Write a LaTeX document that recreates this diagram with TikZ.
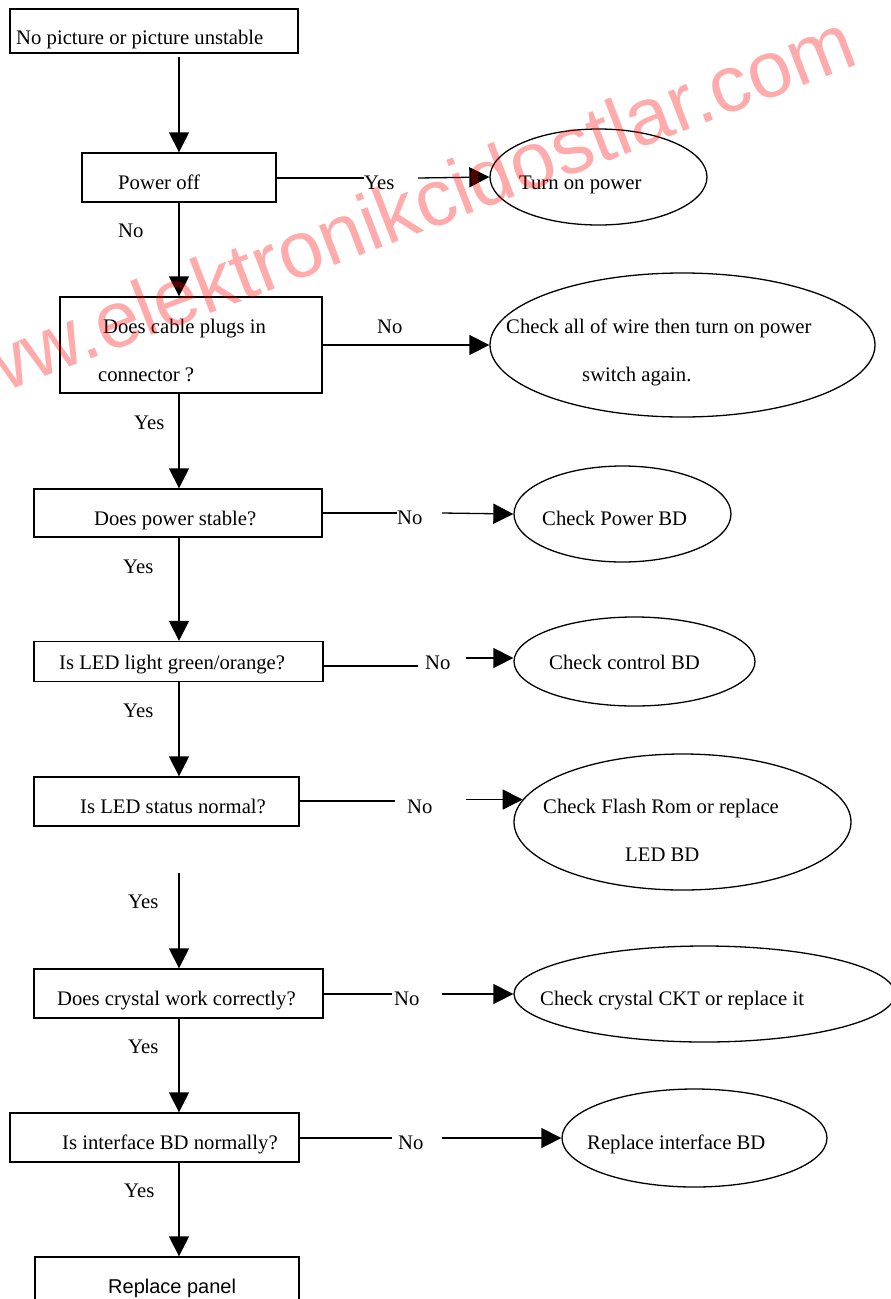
\documentclass[tikz,border=0pt]{standalone}
\usepackage{fontspec}
\setmainfont{Liberation Serif}
\newfontfamily\arialf{Liberation Sans}
\usetikzlibrary{shapes.geometric,arrows.meta}
\begin{document}
\begin{tikzpicture}[x=1pt,y=-1pt,
  box/.style={draw, line width=1.3pt, rectangle, inner sep=0pt},
  oval/.style={draw, line width=1.3pt, ellipse, inner sep=0pt},
  txt/.style={inner sep=0pt, anchor=base west, font=\fontsize{20.7pt}{24pt}\selectfont},
  conn/.style={line width=1.3pt},
  arr/.style={line width=1.3pt, -{Triangle[length=20pt,width=20pt]}},
]
\clip (0,0) rectangle (891,1299);
\fill[white] (0,0) rectangle (891,1299);
\coordinate (spine) at (179,0);

% boxes
\node[box, minimum width=288pt, minimum height=44pt] (b1) at (154,31) {};
\node[box, minimum width=194pt, minimum height=49pt] (b2) at (179,177.5) {};
\node[box, minimum width=262pt, minimum height=96pt] (b3) at (191,345) {};
\node[box, minimum width=288pt, minimum height=48pt] (b4) at (178,513) {};
\node[box, minimum width=289pt, minimum height=40pt] (b5) at (178.5,661.5) {};
\node[box, minimum width=265pt, minimum height=49pt] (b6) at (166.5,801.5) {};
\node[box, minimum width=289pt, minimum height=49pt] (b7) at (178.5,993.5) {};
\node[box, minimum width=289pt, minimum height=49pt] (b8) at (154.5,1137.5) {};
\node[box, minimum width=264pt, minimum height=63pt] (b9) at (167,1288.5) {};

% ellipses
\node[oval, minimum width=217pt, minimum height=96pt] (e1) at (598.5,177) {};
\node[oval, minimum width=385pt, minimum height=144pt] (e2) at (682.5,345) {};
\node[oval, minimum width=217pt, minimum height=96pt] (e3) at (622.5,514) {};
\node[oval, minimum width=241pt, minimum height=89pt] (e4) at (634.5,661.5) {};
\node[oval, minimum width=337pt, minimum height=136pt] (e5) at (682.5,822) {};
\node[oval, minimum width=381pt, minimum height=96pt] (e6) at (704.5,994) {};
\node[oval, minimum width=265pt, minimum height=98pt] (e7) at (694.5,1138) {};

% texts
\node[txt] (t1) at (16,44) {No picture or picture unstable};
\node[txt] (t2) at (118,189) {Power off};
\node[txt] (te1) at (519,189) {Turn on power};
\node[txt] (lno) at (118,237) {No};
\node[txt] (t3a) at (103,333) {Does cable plugs in};
\node[txt] (t3b) at (98,381) {connector ?};
\node[txt] (te2a) at (506,333) {Check all of wire then turn on power};
\node[txt] (te2b) at (582,381) {switch again.};
\node[txt] (ly1) at (134,429) {Yes};
\node[txt] (t4) at (94,525) {Does power stable?};
\node[txt] (te3) at (542,525) {Check Power BD};
\node[txt] (ly2) at (123,573) {Yes};
\node[txt] (t5) at (59,669) {Is LED light green/orange?};
\node[txt] (te4) at (549,669) {Check control BD};
\node[txt] (ly3) at (123,717) {Yes};
\node[txt] (t6) at (80,813) {Is LED status normal?};
\node[txt] (te5a) at (543,813) {Check Flash Rom or replace};
\node[txt] (te5b) at (625,861) {LED BD};
\node[txt] (ly4) at (128,908) {Yes};
\node[txt] (t7) at (57,1005) {Does crystal work correctly?};
\node[txt] (te6) at (540,1005) {Check crystal CKT or replace it};
\node[txt] (ly5) at (128,1053) {Yes};
\node[txt] (t8) at (62,1149) {Is interface BD normally?};
\node[txt] (te7) at (587,1149) {Replace interface BD};
\node[txt] (ly6) at (124,1197) {Yes};
\node[txt, font=\arialf\fontsize{20pt}{24pt}\selectfont] (t9) at (108,1293) {Replace panel};

% horizontal labels
\node[txt] (l1) at (364,189) {Yes};
\node[txt] (l2) at (377,333) {No};
\node[txt] (l3) at (397,524) {No};
\node[txt] (l4) at (425,669) {No};
\node[txt] (l5) at (407,813) {No};
\node[txt] (l6) at (394,1005) {No};
\node[txt] (l7) at (398,1149) {No};

% vertical connectors
\coordinate (s1) at (179,57);
\draw[arr] (s1) -- (b2.north -| spine);
\draw[arr] (b2.south -| spine) -- (b3.north -| spine);
\draw[arr] (b3.south -| spine) -- (b4.north -| spine);
\draw[arr] (b4.south -| spine) -- (b5.north -| spine);
\draw[arr] (b5.south -| spine) -- (b6.north -| spine);
\coordinate (s6) at (179,873);
\draw[arr] (s6) -- (b7.north -| spine);
\draw[arr] (b7.south -| spine) -- (b8.north -| spine);
\draw[arr] (b8.south -| spine) -- (b9.north -| spine);

% horizontal connectors
\coordinate (c1a) at (364,178);
\coordinate (c1b) at (418,178);
\draw[conn] (b2.east |- c1a) -- (c1a);
\draw[arr] (c1b) -- (e1.west);

\draw[arr] (b3.east) -- (e2.west);

\coordinate (c3a) at (397,513);
\coordinate (c3b) at (442,513);
\draw[conn] (b4.east |- c3a) -- (c3a);
\draw[arr] (c3b) -- (e3.west);

\coordinate (c4a) at (418,666);
\coordinate (c4b) at (466,658);
\draw[conn] (b5.east |- c4a) -- (c4a);
\draw[arr] (c4b) -- ([yshift=3.5pt]e4.west);

\coordinate (c5a) at (395,801);
\coordinate (c5b) at (466,801);
\draw[conn] (b6.east |- c5a) -- (c5a);
\draw[arr] (c5b |- e5.172.5) -- (e5.172.5);

\coordinate (c6a) at (392,994);
\coordinate (c6b) at (442,994);
\draw[conn] (b7.east |- c6a) -- (c6a);
\draw[arr] (c6b) -- (e6.west);

\coordinate (c7a) at (392,1138);
\coordinate (c7b) at (442,1138);
\draw[conn] (b8.east |- c7a) -- (c7a);
\draw[arr] (c7b) -- (e7.west);

% watermark
\node[inner sep=0pt, anchor=base, rotate=21, text=red, opacity=0.33,
      font=\arialf\fontsize{80pt}{80pt}\selectfont] (wm) at (394,243) {www.elektronikcidostlar.com};
\end{tikzpicture}
\end{document}
